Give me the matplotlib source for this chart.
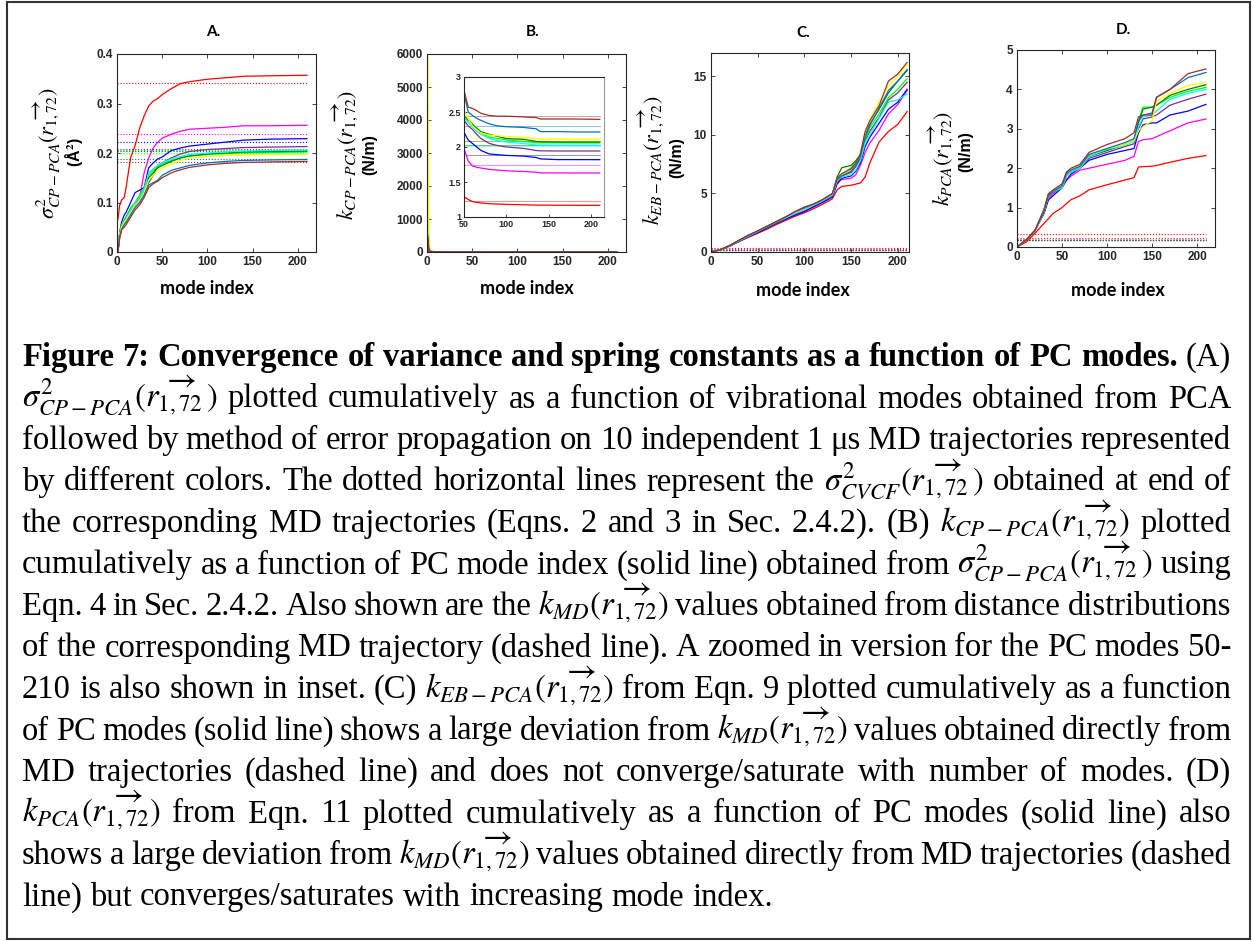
import matplotlib
matplotlib.use("Agg")
import matplotlib.pyplot as plt
from matplotlib.patches import Rectangle

plt.rcParams['mathtext.fontset'] = 'stix'

W, H = 1253, 941

# one colour per MD trajectory
colors = ['#FF0000', '#FF00FF', '#0000FF', '#7E2F8E', '#00FF00',
          '#008000', '#00FFFF', '#FFFF00', '#0072BD', '#A0302A']

# ---- panel A: sigma^2 CP-PCA (A^2) ----
modes_a = [1, 3, 5, 8, 10, 15, 20, 25, 30, 35, 40, 45, 50, 60, 70, 80, 100, 120, 140, 170, 210]
sig_a = [
    [0.066, 0.095, 0.105, 0.11, 0.13, 0.19, 0.215, 0.25, 0.275, 0.295, 0.305, 0.31, 0.318, 0.33, 0.34, 0.344, 0.349, 0.352, 0.355, 0.356, 0.357],
    [0.0, 0.03, 0.045, 0.06, 0.07, 0.085, 0.095, 0.11, 0.16, 0.19, 0.21, 0.222, 0.23, 0.238, 0.244, 0.248, 0.25, 0.252, 0.255, 0.255, 0.256],
    [0.0, 0.04, 0.06, 0.075, 0.08, 0.1, 0.12, 0.125, 0.13, 0.17, 0.18, 0.188, 0.192, 0.205, 0.21, 0.214, 0.218, 0.222, 0.226, 0.228, 0.229],
    [0.0, 0.035, 0.05, 0.06, 0.065, 0.08, 0.095, 0.105, 0.12, 0.14, 0.155, 0.175, 0.18, 0.19, 0.198, 0.203, 0.207, 0.209, 0.211, 0.212, 0.213],
    [0.0, 0.04, 0.055, 0.065, 0.07, 0.09, 0.1, 0.115, 0.13, 0.155, 0.165, 0.172, 0.178, 0.185, 0.19, 0.194, 0.197, 0.199, 0.2, 0.201, 0.202],
    [0.0, 0.035, 0.05, 0.06, 0.07, 0.085, 0.1, 0.11, 0.125, 0.15, 0.16, 0.17, 0.175, 0.183, 0.19, 0.194, 0.198, 0.2, 0.202, 0.203, 0.204],
    [0.0, 0.035, 0.05, 0.06, 0.068, 0.085, 0.1, 0.11, 0.125, 0.16, 0.168, 0.175, 0.18, 0.188, 0.193, 0.197, 0.2, 0.202, 0.204, 0.205, 0.206],
    [0.0, 0.035, 0.05, 0.06, 0.065, 0.08, 0.095, 0.105, 0.12, 0.145, 0.155, 0.165, 0.17, 0.178, 0.185, 0.19, 0.193, 0.195, 0.196, 0.197, 0.197],
    [0.0, 0.03, 0.045, 0.055, 0.06, 0.075, 0.09, 0.1, 0.115, 0.135, 0.14, 0.145, 0.155, 0.165, 0.17, 0.175, 0.18, 0.183, 0.185, 0.186, 0.187],
    [0.0, 0.03, 0.045, 0.05, 0.055, 0.07, 0.085, 0.095, 0.11, 0.13, 0.138, 0.143, 0.15, 0.16, 0.166, 0.171, 0.176, 0.179, 0.181, 0.182, 0.183],
]
sig_md = [0.342, 0.239, 0.222, 0.209, 0.207, 0.205, 0.201, 0.197, 0.188, 0.181]

# ---- panel B: k CP-PCA (N/m), inset shows modes 50-210 ----
modes_b = [1, 2, 3, 5, 10, 20, 30, 40, 50, 55, 60, 65, 70, 80, 90, 100, 120, 135, 140, 160, 180, 210]
k_cp = [
    [6.2, 4.5, 3.9, 3.7, 3.2, 1.9, 1.5, 1.35, 1.29, 1.25, 1.22, 1.21, 1.2, 1.19, 1.185, 1.18, 1.175, 1.17, 1.17, 1.168, 1.167, 1.167],
    [300, 60, 20, 10, 6, 3.5, 2.6, 2.1, 1.98, 1.8, 1.73, 1.71, 1.7, 1.68, 1.67, 1.66, 1.65, 1.64, 1.63, 1.63, 1.629, 1.629],
    [250, 55, 20, 10, 6, 3.6, 2.8, 2.4, 2.21, 2.1, 2.05, 2.0, 1.95, 1.9, 1.89, 1.88, 1.87, 1.85, 1.83, 1.82, 1.82, 1.819],
    [350, 70, 25, 11, 6.2, 4.0, 3.0, 2.5, 2.38, 2.3, 2.25, 2.18, 2.12, 2.05, 2.02, 2.0, 1.98, 1.95, 1.945, 1.943, 1.943, 1.943],
    [1500, 300, 60, 18, 7, 4.2, 3.3, 2.7, 2.45, 2.4, 2.33, 2.25, 2.2, 2.14, 2.12, 2.1, 2.08, 2.06, 2.06, 2.058, 2.057, 2.057],
    [900, 150, 40, 15, 6.5, 4.0, 3.2, 2.6, 2.43, 2.38, 2.32, 2.27, 2.22, 2.18, 2.15, 2.12, 2.11, 2.08, 2.075, 2.07, 2.07, 2.07],
    [600, 120, 35, 14, 6, 4.0, 3.2, 2.6, 2.42, 2.35, 2.28, 2.22, 2.18, 2.12, 2.09, 2.07, 2.05, 2.03, 2.028, 2.025, 2.024, 2.024],
    [5900, 400, 90, 25, 8, 4.5, 3.5, 2.8, 2.52, 2.4, 2.3, 2.25, 2.2, 2.17, 2.16, 2.15, 2.14, 2.12, 2.11, 2.108, 2.106, 2.105],
    [500, 100, 30, 14, 6.5, 4.3, 3.5, 3.0, 2.77, 2.5, 2.45, 2.41, 2.38, 2.33, 2.3, 2.29, 2.28, 2.26, 2.22, 2.22, 2.215, 2.214],
    [400, 90, 30, 14, 7, 4.5, 3.6, 3.1, 2.81, 2.57, 2.55, 2.52, 2.48, 2.45, 2.44, 2.44, 2.43, 2.42, 2.4, 2.4, 2.4, 2.395],
]
k_md_b = [1.224, 1.75, 1.88, 2.03, 2.03, 2.09, 2.01, 2.133, 2.30, 2.44]

# ---- panel C: k EB-PCA (N/m) ----
modes_c = [0, 10, 20, 30, 40, 50, 60, 70, 80, 90, 100, 110, 120, 130,
           135, 140, 150, 155, 160, 165, 170, 180, 190, 200, 210]
k_eb = [
    [0, 0.2, 0.5, 0.9, 1.25, 1.6, 1.95, 2.35, 2.7, 3.05, 3.35, 3.7, 4.1, 4.55, 5.3, 5.6, 5.7, 5.8, 5.9, 6.4, 7.6, 9.4, 10.3, 10.9, 12.0],
    [0, 0.2, 0.55, 0.95, 1.35, 1.7, 2.1, 2.5, 2.85, 3.2, 3.5, 3.9, 4.3, 4.75, 5.9, 6.2, 6.3, 6.6, 7.4, 8.5, 9.3, 10.4, 11.8, 12.6, 13.8],
    [0, 0.2, 0.5, 0.9, 1.3, 1.65, 2.05, 2.45, 2.8, 3.15, 3.45, 3.85, 4.25, 4.7, 5.8, 6.3, 6.5, 6.9, 7.6, 9.0, 9.8, 11.0, 12.2, 12.8, 13.9],
    [0, 0.2, 0.55, 1.0, 1.4, 1.75, 2.15, 2.55, 2.95, 3.35, 3.7, 4.0, 4.4, 4.85, 6.0, 6.5, 6.8, 7.3, 8.0, 9.5, 10.3, 11.5, 13.0, 13.6, 14.5],
    [0, 0.2, 0.55, 1.0, 1.4, 1.8, 2.2, 2.6, 3.0, 3.4, 3.7, 4.05, 4.45, 5.0, 6.3, 6.6, 7.2, 7.6, 8.1, 9.6, 10.6, 11.8, 13.2, 13.9, 14.8],
    [0, 0.2, 0.55, 0.95, 1.4, 1.75, 2.15, 2.55, 2.95, 3.35, 3.75, 4.05, 4.45, 4.95, 6.4, 7.2, 7.4, 7.8, 8.3, 10.0, 10.9, 12.2, 13.6, 14.6, 15.5],
    [0, 0.2, 0.55, 0.95, 1.35, 1.75, 2.15, 2.55, 2.9, 3.3, 3.65, 4.0, 4.4, 4.85, 6.1, 6.4, 6.6, 7.0, 7.8, 9.3, 10.0, 11.4, 12.8, 13.0, 13.5],
    [0, 0.2, 0.55, 1.0, 1.4, 1.8, 2.2, 2.6, 3.0, 3.4, 3.8, 4.1, 4.5, 5.0, 6.2, 6.6, 7.0, 7.5, 8.4, 10.2, 11.3, 12.8, 14.2, 15.0, 16.0],
    [0, 0.2, 0.55, 1.0, 1.4, 1.8, 2.2, 2.6, 3.0, 3.45, 3.85, 4.1, 4.5, 5.0, 6.2, 6.5, 6.9, 7.4, 8.2, 9.8, 10.8, 12.3, 13.8, 14.6, 15.6],
    [0, 0.2, 0.55, 1.0, 1.45, 1.8, 2.2, 2.6, 3.0, 3.45, 3.8, 4.1, 4.5, 5.0, 6.3, 6.7, 7.1, 7.6, 8.4, 10.3, 11.2, 12.5, 14.6, 15.2, 16.2],
]

# ---- panel D: k PCA (N/m) ----
modes_d = [0, 10, 20, 30, 35, 40, 50, 55, 60, 70, 80, 100, 120, 130, 135, 140, 150, 155, 170, 190, 210]
k_pca = [
    [0, 0.12, 0.35, 0.6, 0.72, 0.85, 1.0, 1.1, 1.2, 1.3, 1.45, 1.58, 1.7, 1.76, 2.03, 2.04, 2.05, 2.07, 2.15, 2.25, 2.32],
    [0, 0.18, 0.42, 0.9, 1.25, 1.35, 1.55, 1.7, 1.8, 1.95, 2.0, 2.1, 2.2, 2.3, 2.68, 2.72, 2.75, 2.8, 2.95, 3.15, 3.25],
    [0, 0.18, 0.42, 0.85, 1.2, 1.3, 1.5, 1.7, 1.85, 2.0, 2.2, 2.35, 2.45, 2.5, 2.9, 3.1, 3.15, 3.15, 3.35, 3.45, 3.62],
    [0, 0.18, 0.42, 0.9, 1.3, 1.38, 1.5, 1.8, 1.9, 2.0, 2.25, 2.4, 2.55, 2.62, 3.0, 3.25, 3.3, 3.35, 3.6, 3.75, 3.88],
    [0, 0.18, 0.42, 0.9, 1.35, 1.42, 1.52, 1.85, 1.95, 2.05, 2.3, 2.45, 2.6, 2.7, 3.2, 3.55, 3.55, 3.6, 3.8, 3.95, 4.05],
    [0, 0.18, 0.42, 0.95, 1.35, 1.42, 1.55, 1.9, 1.95, 2.05, 2.3, 2.45, 2.6, 2.7, 3.15, 3.5, 3.55, 3.6, 3.85, 4.0, 4.12],
    [0, 0.18, 0.42, 0.9, 1.3, 1.4, 1.5, 1.8, 1.9, 2.0, 2.3, 2.48, 2.58, 2.68, 3.05, 3.3, 3.35, 3.45, 3.75, 3.9, 4.0],
    [0, 0.18, 0.42, 0.9, 1.3, 1.4, 1.55, 1.85, 1.95, 2.05, 2.35, 2.5, 2.6, 2.7, 2.95, 3.05, 3.2, 3.7, 3.9, 4.1, 4.18],
    [0, 0.18, 0.42, 0.9, 1.3, 1.4, 1.55, 1.85, 1.95, 2.05, 2.35, 2.5, 2.65, 2.75, 3.2, 3.35, 3.4, 3.8, 4.0, 4.3, 4.43],
    [0, 0.18, 0.42, 0.95, 1.35, 1.45, 1.6, 1.9, 2.0, 2.1, 2.4, 2.6, 2.75, 2.9, 3.3, 3.35, 3.35, 3.8, 4.0, 4.4, 4.52],
]
k_md = [0.33, 0.22, 0.2, 0.19, 0.19, 0.19, 0.18, 0.2, 0.17, 0.17]

caption = [
    "Figure 7: Convergence of variance and spring constants as a function of PC modes. (A)",
    r"$\sigma^2_{CP-PCA}(\overrightarrow{r_{1,72}}\,)$ plotted cumulatively as a function of vibrational modes obtained from PCA",
    "followed by method of error propagation on 10 independent 1 \u03bcs MD trajectories represented",
    r"by different colors. The dotted horizontal lines represent the $\sigma^2_{CVCF}(\overrightarrow{r_{1,72}}\,)$ obtained at end of",
    r"the corresponding MD trajectories (Eqns. 2 and 3 in Sec. 2.4.2). (B) $k_{CP-PCA}(\overrightarrow{r_{1,72}})$ plotted",
    r"cumulatively as a function of PC mode index (solid line) obtained from $\sigma^2_{CP-PCA}(\overrightarrow{r_{1,72}}\,)$ using",
    r"Eqn. 4 in Sec. 2.4.2. Also shown are the $k_{MD}(\overrightarrow{r_{1,72}})$ values obtained from distance distributions",
    "of the corresponding MD trajectory (dashed line). A zoomed in version for the PC modes 50-",
    r"210 is also shown in inset. (C) $k_{EB-PCA}(\overrightarrow{r_{1,72}})$ from Eqn. 9 plotted cumulatively as a function",
    r"of PC modes (solid line) shows a large deviation from $k_{MD}(\overrightarrow{r_{1,72}})$ values obtained directly from",
    "MD trajectories (dashed line) and does not converge/saturate with number of modes. (D)",
    r"$k_{PCA}(\overrightarrow{r_{1,72}})$ from Eqn. 11 plotted cumulatively as a function of PC modes (solid line) also",
    r"shows a large deviation from $k_{MD}(\overrightarrow{r_{1,72}})$ values obtained directly from MD trajectories (dashed",
    "line) but converges/saturates with increasing mode index.",
]

fig = plt.figure(figsize=(W / 100, H / 100), dpi=100)
fig.add_artist(Rectangle((7 / W, 2 / H), 1243 / W, 937 / H, transform=fig.transFigure,
                         fill=False, edgecolor='#333333', linewidth=1.5))


def add_ax(l, t, r, b):
    return fig.add_axes([l / W, 1 - b / H, (r - l) / W, (b - t) / H])


def ftext(x, y, s, **kw):
    return fig.text(x / W, 1 - y / H, s, **kw)


def style(ax, xlim, ylim, yticks, yticklabels, fs=8.5):
    ax.set_xlim(*xlim)
    ax.set_ylim(*ylim)
    ax.set_yticks(yticks)
    ax.set_yticklabels(yticklabels)
    ax.tick_params(direction='in', length=3, width=0.6, top=True, right=True,
                   labelsize=fs, pad=3, colors='#262626')
    for lab in ax.get_xticklabels() + ax.get_yticklabels():
        lab.set_fontweight('bold')
        lab.set_family('Liberation Sans')
    for sp in ax.spines.values():
        sp.set_linewidth(0.8)
        sp.set_color('#262626')


lw = 0.9
tick_x = [0, 50, 100, 150, 200]

# A
axA = add_ax(117, 54, 316, 252)
for c, y, m in zip(colors, sig_a, sig_md):
    axA.plot([0, 210], [m, m], ':', color=c, lw=0.8)
for c, y in zip(colors, sig_a):
    axA.plot(modes_a, y, color=c, lw=lw)
axA.set_xticks(tick_x)
style(axA, (0, 220), (0, 0.4), [0, 0.1, 0.2, 0.3, 0.4], ['0', '0.1', '0.2', '0.3', '0.4'])

# B
axB = add_ax(427, 54, 626, 252)
for c, y in zip(colors, k_cp):
    axB.plot(modes_b, y, color=c, lw=lw)
axB.set_xticks(tick_x)
style(axB, (0, 220), (0, 6000), range(0, 6001, 1000), [str(v) for v in range(0, 6001, 1000)])

axI = add_ax(464, 77, 604, 217)
for c, m in zip(colors, k_md_b):
    axI.plot([50, 210], [m, m], color=c, lw=0.7, alpha=0.45)
for c, y in zip(colors, k_cp):
    axI.plot(modes_b, y, color=c, lw=lw)
axI.set_xticks([50, 100, 150, 200])
style(axI, (50, 215), (1, 3), [1, 1.5, 2, 2.5, 3], ['1', '1.5', '2', '2.5', '3'], fs=6.5)
axI.tick_params(length=2, top=False, right=False, pad=2)
axI.spines['right'].set_color('#999999')

# C
axC = add_ax(711, 53, 909, 252)
for c, m in zip(colors, k_md):
    axC.plot([0, 210], [m, m], ':', color=c, lw=0.8)
for c, y in zip(colors, k_eb):
    axC.plot(modes_c, y, color=c, lw=lw)
axC.set_xticks(tick_x)
style(axC, (0, 212), (0, 17), [0, 5, 10, 15], ['0', '5', '10', '15'])

# D
axD = add_ax(1017, 50, 1215, 247)
for c, m in zip(colors, k_md):
    axD.plot([0, 210], [m, m], ':', color=c, lw=0.8)
for c, y in zip(colors, k_pca):
    axD.plot(modes_d, y, color=c, lw=lw)
axD.set_xticks(tick_x)
style(axD, (0, 220), (0, 5), [0, 1, 2, 3, 4, 5], ['0', '1', '2', '3', '4', '5'])

# titles, x labels, y labels
for x, y, s in [(213, 32, 'A.'), (533, 32, 'B.'), (803, 33, 'C.'), (1123, 30, 'D.')]:
    ftext(x, y, s, family='Lato', weight='bold', fontsize=11, ha='center', va='center')
for x, y in [(207, 288), (527, 288), (803, 290), (1118, 290)]:
    ftext(x, y, 'mode index', family='Lato', weight='bold', fontsize=13, ha='center', va='center')

ylab = [
    (47, 153, r'$\sigma^2_{CP-PCA}(\overrightarrow{r_{1,72}})$', 74, 152, '(\u00c5$^\\mathbf{2}$)'),
    (345, 155, r'$k_{CP-PCA}(\overrightarrow{r_{1,72}})$', 370, 155, '(N/m)'),
    (651, 160, r'$k_{EB-PCA}(\overrightarrow{r_{1,72}})$', 677, 158, '(N/m)'),
    (941, 158, r'$k_{PCA}(\overrightarrow{r_{1,72}})$', 966, 152, '(N/m)'),
]
for x1, y1, s1, x2, y2, s2 in ylab:
    ftext(x1, y1, s1, fontsize=16, rotation=90, ha='center', va='center')
    ftext(x2, y2, s2, family='Liberation Sans', weight='bold', fontsize=11.5,
          rotation=90, ha='center', va='center')

# caption, justified line by line
cap_left, cap_right, cap_fs = 22, 1231, 23.5
target = cap_right - cap_left
renderer = fig.canvas.get_renderer()
for i, line in enumerate(caption):
    words = line.split()
    arts = []
    for j, w in enumerate(words):
        bold = (i == 0 and j < 14)
        arts.append(ftext(0, 366 + 41.5 * i, w, family='Liberation Serif', fontsize=cap_fs,
                          weight='bold' if bold else 'normal', va='baseline', ha='left'))
    widths = [a.get_window_extent(renderer).width for a in arts]
    min_gap = cap_fs * 100 / 72 * 0.2
    need = sum(widths) + min_gap * (len(words) - 1)
    if need > target:
        for a in arts:
            a.set_fontsize(cap_fs * target / need)
        widths = [a.get_window_extent(renderer).width for a in arts]
    if i < len(caption) - 1:
        gap = (target - sum(widths)) / (len(words) - 1)
    else:
        gap = cap_fs * 100 / 72 * 0.25
    x = cap_left
    for a, wd in zip(arts, widths):
        a.set_x(x / W)
        x += wd + gap

fig.savefig('out.png', dpi=100)
